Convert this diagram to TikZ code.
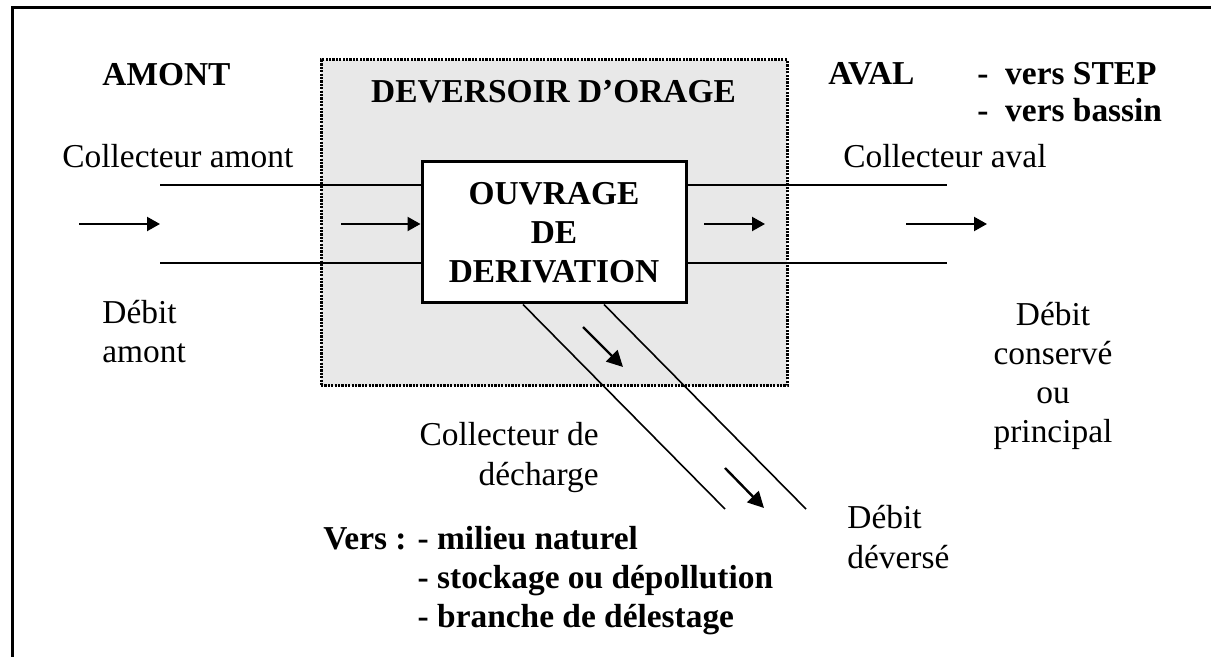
\documentclass[tikz,border=0pt]{standalone}
\usepackage{fontspec}
\setmainfont{Liberation Serif}
\usetikzlibrary{arrows.meta}
\definecolor{boxgray}{RGB}{232,232,232}
\begin{document}
\begin{tikzpicture}[x=0.5pt,y=-0.5pt,
  txt/.style={font=\fontsize{16.7pt}{19.5pt}\selectfont, inner sep=0pt},
  btxt/.style={font=\fontsize{16.7pt}{19.5pt}\selectfont\bfseries, inner sep=0pt},
  pipe/.style={line width=0.8pt},
  flow/.style={line width=1.1pt, -{Triangle[length=6.5pt,width=7pt]}},
  dflow/.style={line width=1.2pt, -{Triangle[length=8pt,width=8pt]}},
]
\useasboundingbox (0,0) rectangle (1211,657);
\fill[white] (0,0) rectangle (1211,657);
\draw[line width=1.5pt] (12.5,657) -- (12.5,7.5) -- (1211,7.5);

% dotted box
\node[draw, fill=boxgray, line width=1.5pt, dash pattern=on 1.1pt off 0.6pt,
      minimum width=233pt, minimum height=163pt, inner sep=0pt] (dev) at (554,223) {};
\node[btxt, anchor=base] (devt) at (553.5,103) {DEVERSOIR D’ORAGE};

% ouvrage
\node[draw, fill=white, line width=1.5pt, minimum width=132pt, minimum height=70.5pt,
      align=center, btxt] (ouv) at (554,232.5) {OUVRAGE\\DE\\DERIVATION};

% pipes
\coordinate (la) at (160,185); \coordinate (lb) at (160,263);
\coordinate (ra) at (947,185); \coordinate (rb) at (947,263);
\draw[pipe] (la) -- (la -| ouv.west);
\draw[pipe] (lb) -- (lb -| ouv.west);
\draw[pipe] (ra -| ouv.east) -- (ra);
\draw[pipe] (rb -| ouv.east) -- (rb);

\coordinate (c1) at (523,304); \coordinate (d1) at (725,509);
\coordinate (c2) at (604,304); \coordinate (d2) at (806,509);
\draw[pipe] (c1 |- ouv.south) -- (d1);
\draw[pipe] (c2 |- ouv.south) -- (d2);

% flow arrows
\coordinate (a1s) at (79,224);  \coordinate (a1e) at (160,224);
\coordinate (a2s) at (341,224);
\coordinate (a3s) at (704,224); \coordinate (a3e) at (765,224);
\coordinate (a4s) at (906,224); \coordinate (a4e) at (987,224);
\draw[flow] (a1s) -- (a1e);
\draw[flow] (a2s) -- (a2s -| ouv.west);
\draw[flow] (a3s) -- (a3e);
\draw[flow] (a4s) -- (a4e);

\coordinate (b1s) at (583,327); \coordinate (b1e) at (623,367);
\coordinate (b2s) at (725,468); \coordinate (b2e) at (764,508);
\draw[dflow] (b1s) -- (b1e);
\draw[dflow] (b2s) -- (b2e);

% texts (multi-line nodes: base = last line's baseline)
\node[btxt, anchor=base west] (amont) at (102,86) {AMONT};
\node[txt, anchor=base west] (camont) at (62,168) {Collecteur amont};
\node[btxt, anchor=base west] (aval) at (828,85) {AVAL};
\node[btxt, anchor=base west, align=left, font=\fontsize{16.7pt}{18.5pt}\selectfont\bfseries] (vers) at (977,122) {-~~vers STEP\\-~~vers bassin};
\node[txt, anchor=base west] (caval) at (843,168) {Collecteur aval};
\node[txt, anchor=base west, align=left] (damont) at (102,363) {Débit\\amont};
\node[txt, anchor=base, align=center] (dcons) at (1053,443) {Débit\\conservé\\ou\\principal};
\node[txt, anchor=base east, align=right, font=\fontsize{16.7pt}{20pt}\selectfont] (cdech) at (599,486) {Collecteur de\\décharge};
\node[txt, anchor=base west, align=left, font=\fontsize{16.7pt}{20pt}\selectfont] (ddev) at (847,568) {Débit\\déversé};
\node[btxt, anchor=base west, align=left, font=\fontsize{16.7pt}{19.5pt}\selectfont\bfseries] (versb) at (323,627)
  {Vers : - milieu naturel\\\phantom{Vers : }- stockage ou dépollution\\\phantom{Vers : }- branche de délestage};
\end{tikzpicture}
\end{document}
